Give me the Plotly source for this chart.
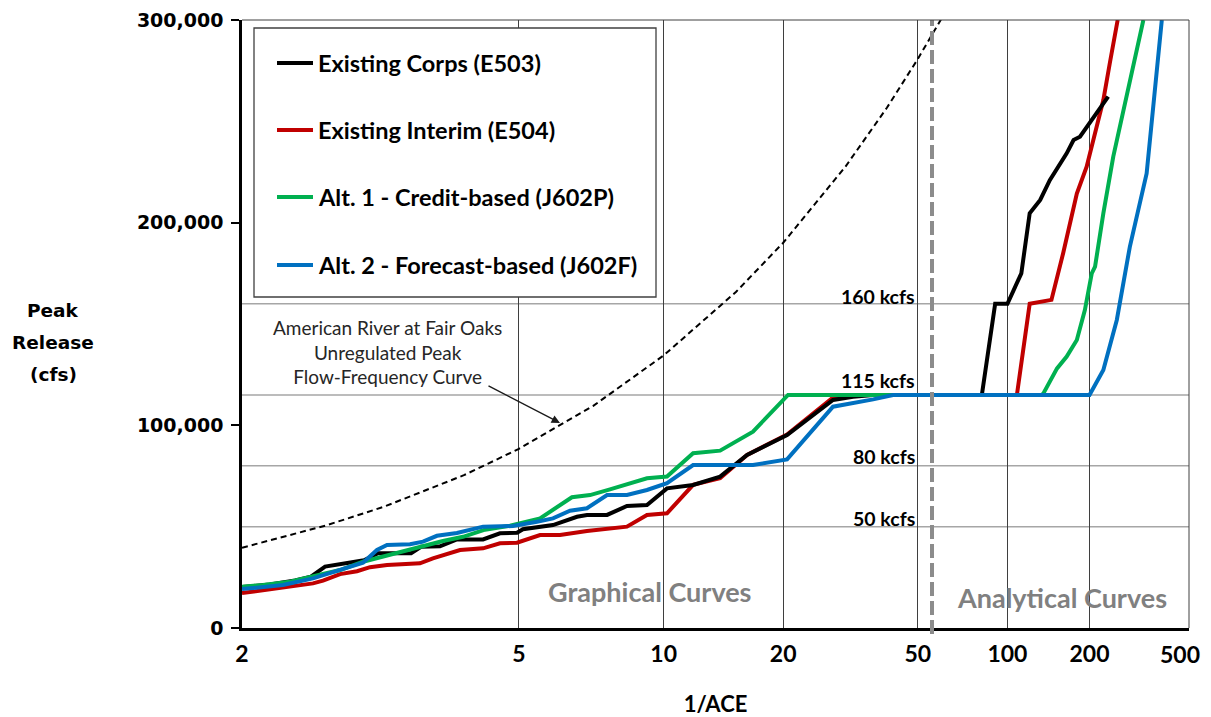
import plotly.graph_objects as go
from statistics import NormalDist

# ---------------- data (1/ACE = return period, peak release in cfs) ----------------
tick_ace = [2, 5, 10, 20, 50, 100, 200, 500]
tick_labels = ["2", "5", "10", "20", "50", "100", "200", "500"]
y_ticks = [0, 100000, 200000, 300000]

ffc_ace = [2, 2.5, 3, 4, 5, 7, 10, 15, 20, 30, 40, 50, 60]
ffc_cfs = [39600, 50500, 59800, 75400, 88400, 109600, 134500, 165800, 190100,
           227600, 256700, 280700, 301300]

e503_ace = [2.0, 2.145, 2.294, 2.398, 2.498, 2.814, 2.944, 3.293, 3.411, 3.654, 3.894,
            4.312, 4.619, 4.96, 5.087, 5.804, 6.481, 6.793, 7.485, 8.264, 9.158, 10.18,
            11.74, 13.68, 16.03, 20.49, 27.6, 31.6, 36.3, 81.5, 90.6, 100, 112, 120, 131,
            142, 164, 174, 184, 213, 236]
e503_cfs = [20200, 21500, 23500, 25300, 30300, 33400, 36900, 36900, 40100, 40300, 43700,
            43700, 46700, 47000, 48700, 50800, 54900, 55800, 55800, 60200, 60700, 68900,
            70600, 74700, 85400, 95200, 112500, 114100, 115000, 115000, 160000, 160000,
            175000, 204600, 211200, 221000, 234200, 240800, 242400, 253900, 262200]

e504_ace = [2.0, 2.107, 2.22, 2.306, 2.412, 2.483, 2.612, 2.752, 2.869, 3.033, 3.202,
            3.398, 3.56, 3.94, 4.312, 4.619, 4.96, 5.479, 5.992, 6.793, 8.264, 9.158,
            10.18, 11.74, 13.68, 16.03, 20.49, 27.4, 32.1, 108, 120, 144, 159, 179, 195,
            213, 226, 240, 257]
e504_cfs = [17200, 18700, 20100, 21200, 22000, 23400, 26600, 28000, 30000, 31100, 31600,
            31900, 34400, 38500, 39300, 41800, 42100, 45900, 45900, 47900, 50000, 55800,
            56600, 70600, 73900, 85400, 95500, 113300, 115000, 115000, 160000, 161900,
            184800, 214400, 227600, 246500, 260500, 279400, 300000]

j602p_ace = [2.0, 2.107, 2.262, 2.412, 2.612, 2.805, 2.964, 3.202, 3.435, 3.694, 3.986,
             4.346, 4.815, 5.479, 6.329, 6.892, 7.593, 8.183, 9.158, 10.18, 11.74, 13.68,
             16.61, 20.62, 133, 135, 151, 164, 179, 192, 204, 210, 226, 247, 279, 306, 325]
j602p_cfs = [20400, 21200, 22800, 25300, 28600, 32700, 34900, 37700, 40100, 42900, 45000,
             48500, 50500, 54100, 64500, 65600, 68400, 70600, 73900, 74700, 86200, 87500,
             96900, 115000, 115000, 116100, 128100, 133900, 142100, 156900, 175000, 178300,
             204600, 232600, 263800, 285200, 300000]

j602f_ace = [2.0, 2.22, 2.412, 2.612, 2.805, 2.934, 3.033, 3.281, 3.435, 3.613, 3.894,
             4.312, 4.876, 5.405, 5.804, 6.274, 6.793, 7.485, 8.264, 9.158, 10.18, 11.74,
             16.61, 20.49, 27.6, 36.3, 41.8, 200, 226, 255, 287, 335, 357, 373, 386]
j602f_cfs = [19200, 21200, 24500, 28600, 32200, 38500, 41000, 41300, 42600, 45500, 46900,
             50000, 50300, 52400, 54100, 57900, 59100, 65600, 65600, 68100, 71500, 80400,
             80400, 83200, 109200, 112800, 115000, 115000, 127300, 152000, 188100, 224300,
             260500, 283600, 300000]

ref_kcfs = [50, 80, 115, 160]

series_names = ["Existing Corps (E503)", "Existing Interim (E504)",
                "Alt. 1 - Credit-based (J602P)", "Alt. 2 - Forecast-based (J602F)"]
series_colors = ["#000000", "#C00000", "#00B050", "#0070C0"]

# ---------------- normal-probability scale ----------------
_nd = NormalDist()


def prob_axis(ace_list):
    return [_nd.inv_cdf(1.0 - 1.0 / t) for t in ace_list]


# page body has an 8px margin: figure occupies screen 8..1211 x 8..717
OFF = 8
W, H = 1211 - OFF, 717 - OFF
PL, PR, PT, PB = 242, 1189, 20, 628          # plot area in screen pixels
ML, MR, MT, MB = PL - OFF, W - (PR - OFF), PT - OFF, H - (PB - OFF)
PW, PH = PR - PL, PB - PT


def px(xs):
    return (xs - PL) / PW


def py(ys):
    return (PB - ys) / PH


LATO = "Lato, Carlito, Calibri, sans-serif"
DEJA = "DejaVu Sans, Verdana, sans-serif"

fig = go.Figure()

fig.add_trace(go.Scatter(
    x=prob_axis(ffc_ace), y=ffc_cfs, mode="lines", showlegend=False,
    name="American River at Fair Oaks Unregulated Peak Flow-Frequency Curve",
    line=dict(color="#000000", width=2, dash="6px,4px")))

draw_order = [1, 0, 2, 3]
all_ace = [e503_ace, e504_ace, j602p_ace, j602f_ace]
all_cfs = [e503_cfs, e504_cfs, j602p_cfs, j602f_cfs]
for i in draw_order:
    fig.add_trace(go.Scatter(
        x=prob_axis(all_ace[i]), y=all_cfs[i], mode="lines", name=series_names[i],
        showlegend=False, line=dict(color=series_colors[i], width=4)))

# reference flow lines
for v in ref_kcfs:
    fig.add_shape(type="line", xref="paper", x0=0, x1=1, yref="y", y0=v * 1000, y1=v * 1000,
                  line=dict(color="#a6a6a6", width=1.5), layer="below")


def add_box(x0, x1, y0, y1):
    kw = dict(type="rect", xref="paper", yref="paper", x0=x0, x1=x1, y0=y0, y1=y1,
              fillcolor="white", line=dict(width=0))
    try:
        fig.add_shape(layer="between", **kw)
    except Exception:
        fig.add_shape(layer="below", **kw)


# white boxes behind the region labels
add_box(px(508), px(912), py(617), py(566))
add_box(px(938), px(1184), py(617), py(566))

# divider between graphical and analytical curves
fig.add_shape(type="line", xref="paper", yref="paper", x0=px(932), x1=px(932),
              y0=py(634), y1=1, line=dict(color="#8c8c8c", width=4, dash="14px,5px"),
              layer="above")

# top and right frame
fig.add_shape(type="line", xref="paper", yref="paper", x0=0, x1=1, y0=1, y1=1,
              line=dict(color="#404040", width=1), layer="above")
fig.add_shape(type="line", xref="paper", yref="paper", x0=1, x1=1, y0=0, y1=1,
              line=dict(color="#404040", width=1), layer="above")

# legend box
fig.add_shape(type="rect", xref="paper", yref="paper", x0=px(254), x1=px(656),
              y0=py(297), y1=py(28), fillcolor="white",
              line=dict(color="#404040", width=1.3), layer="above")
row_y = [63, 130, 197, 265]
for i in range(4):
    fig.add_shape(type="line", xref="paper", yref="paper", x0=px(277), x1=px(313),
                  y0=py(row_y[i]), y1=py(row_y[i]),
                  line=dict(color=series_colors[i], width=4), layer="above")
    fig.add_annotation(xref="paper", yref="paper", x=px(316), y=py(row_y[i]),
                       xanchor="left", yanchor="middle", showarrow=False,
                       text="<b>%s</b>" % series_names[i],
                       font=dict(family=LATO, size=23.5, color="#000000"))

# reference level labels
lab_y = {160: 296, 115: 380, 80: 456, 50: 518}
for v in ref_kcfs:
    fig.add_annotation(xref="paper", yref="paper", x=px(917), y=py(lab_y[v]),
                       xanchor="right", yanchor="middle", showarrow=False,
                       text="<b>%d kcfs</b>" % v,
                       font=dict(family=LATO, size=19.5, color="#000000"))

# region labels
fig.add_annotation(xref="paper", yref="paper", x=px(650), y=py(591), showarrow=False,
                   text="<b>Graphical Curves</b>", xanchor="center", yanchor="middle",
                   font=dict(family=LATO, size=27, color="#808080"))
fig.add_annotation(xref="paper", yref="paper", x=px(1062), y=py(597), showarrow=False,
                   text="<b>Analytical Curves</b>", xanchor="center", yanchor="middle",
                   font=dict(family=LATO, size=27, color="#808080"))

# flow-frequency curve label and arrow
fig.add_annotation(xref="paper", yref="paper", x=px(387), y=py(352), showarrow=False,
                   text="American River at Fair Oaks<br>Unregulated Peak<br>Flow-Frequency Curve",
                   xanchor="center", yanchor="middle", align="center",
                   font=dict(family=LATO, size=19, color="#262626"))
fig.add_annotation(xref="paper", yref="paper", x=px(560), y=py(423), text="",
                   showarrow=True, axref="pixel", ayref="pixel", ax=-73, ay=-38,
                   arrowhead=2, arrowsize=1.2, arrowwidth=1.4, arrowcolor="#1a1a1a",
                   standoff=0, startstandoff=0)

# y-axis title
for txt, yy in [("Peak", 310), ("Release", 342), ("(cfs)", 375)]:
    fig.add_annotation(xref="paper", yref="paper", x=px(53), y=py(yy), showarrow=False,
                       text="<b>%s</b>" % txt, xanchor="center", yanchor="middle",
                       font=dict(family=DEJA, size=18.5, color="#000000"))

# the last x label sits just inside the frame, as in the original
x_ticktext = tick_labels[:-1] + [""]
fig.add_annotation(xref="paper", yref="paper", x=px(1180), y=py(654), showarrow=False,
                   text="<b>%s</b>" % tick_labels[-1], xanchor="center", yanchor="middle",
                   font=dict(family=LATO, size=23, color="#000000"))

fig.update_layout(
    template="none",
    width=W, height=H,
    margin=dict(l=ML, r=MR, t=MT, b=MB, autoexpand=False),
    paper_bgcolor="white", plot_bgcolor="white",
    showlegend=False,
    xaxis=dict(range=[0, prob_axis([500])[0]], tickmode="array",
               tickvals=prob_axis(tick_ace), ticktext=x_ticktext,
               showgrid=True, gridcolor="#3f3f3f", gridwidth=1, zeroline=False,
               showline=True, linecolor="#000000", linewidth=2.5, ticks="",
               ticklabelstandoff=4,
               tickfont=dict(family=LATO, size=23, color="#000000", weight="bold"),
               title=dict(text="<b>1/ACE</b>", standoff=32,
                          font=dict(family=LATO, size=22, color="#000000")),
               automargin=False, fixedrange=True),
    yaxis=dict(range=[0, 300000], tickmode="array", tickvals=y_ticks, tickformat=",d",
               showgrid=False, zeroline=False, showline=True, linecolor="#000000",
               linewidth=2.5, ticks="outside", ticklen=8, tickwidth=2,
               tickcolor="#000000", ticklabelstandoff=4,
               tickfont=dict(family=DEJA, size=19, color="#000000", weight="bold"),
               automargin=False, fixedrange=True),
)

fig.write_html("out.html")
